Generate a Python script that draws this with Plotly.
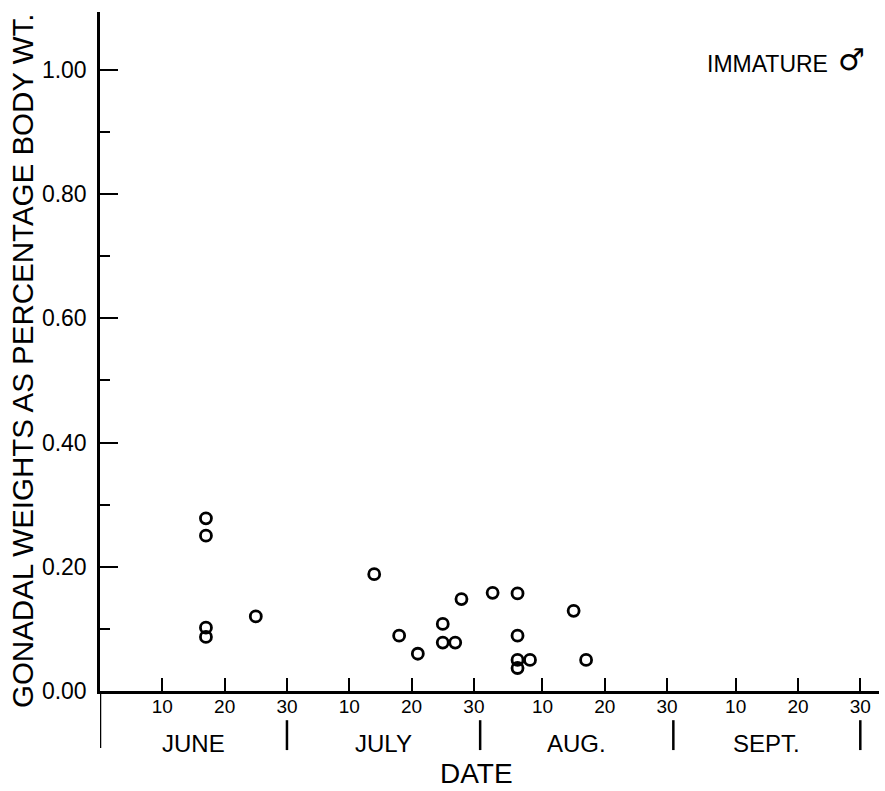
import plotly.graph_objects as go

# ---- data -------------------------------------------------------------
month_names = ["JUNE", "JULY", "AUG.", "SEPT."]
month_lengths = [30, 31, 31, 30]
tick_days = [10, 20, 30]

# observation month (0=June,1=July,2=Aug), day of month, gonadal weight %
obs_month = [0, 0, 0, 0, 0, 1, 1, 1, 1, 1, 1, 1, 2, 2, 2, 2, 2, 2, 2, 2]
obs_day = [17, 17, 17, 17, 25, 14, 18, 21, 25, 25, 27, 28, 2, 6, 6, 6, 6, 8, 15, 17]
gonad_pct = [0.278, 0.250, 0.102, 0.087, 0.120, 0.188, 0.089, 0.060, 0.108, 0.078,
             0.078, 0.148, 0.158, 0.157, 0.089, 0.050, 0.037, 0.050, 0.129, 0.050]

y_ticks = [0.0, 0.2, 0.4, 0.6, 0.8, 1.0]
y_ticklabels = ["0.00", "0.20", "0.40", "0.60", "0.80", "1.00"]
y_minor = [0.1, 0.3, 0.5, 0.7, 0.9]

# ---- derived positions (days from May 31) ------------------------------
offsets = []
acc = 0
for L in month_lengths:
    offsets.append(acc)
    acc += L
x_vals = [offsets[m] + d for m, d in zip(obs_month, obs_day)]
x_tickvals = [o + t for o in offsets for t in tick_days]
x_ticktext = [str(t) for o in offsets for t in tick_days]

FONT = "Liberation Sans, Arial, Helvetica, sans-serif"

fig = go.Figure()
fig.add_trace(go.Scatter(
    x=x_vals, y=gonad_pct, mode="markers",
    marker=dict(symbol="circle-open", size=11, color="black",
                line=dict(width=2.8, color="black")),
    cliponaxis=False, hoverinfo="x+y",
))

fig.update_layout(
    width=885, height=791,
    margin=dict(l=100, r=6, t=12, b=100),
    paper_bgcolor="white", plot_bgcolor="white",
    showlegend=False,
    xaxis=dict(
        range=[0, 125], showline=True, linecolor="black", linewidth=2.5,
        ticks="inside", ticklen=13, tickwidth=2, tickcolor="black",
        tickvals=x_tickvals, ticktext=x_ticktext,
        tickfont=dict(family=FONT, size=19, color="black"),
        ticklabelstandoff=-4,
        showgrid=False, zeroline=False,
    ),
    yaxis=dict(
        range=[0, 1.093], showline=True, linecolor="black", linewidth=2.5,
        ticks="inside", ticklen=18, tickwidth=2, tickcolor="black",
        tickvals=y_ticks, ticktext=y_ticklabels,
        tickfont=dict(family=FONT, size=23, color="black"),
        ticklabelstandoff=6,
        minor=dict(tickvals=y_minor, ticks="inside", ticklen=10,
                   tickwidth=2, tickcolor="black"),
        showgrid=False, zeroline=False,
    ),
)

# left axis extension below the x axis
fig.add_shape(type="line", xref="x", yref="paper", x0=0, x1=0,
              y0=0, y1=-0.084, line=dict(color="black", width=2.5))
# month separators and labels
for name, o, L in zip(month_names, offsets, month_lengths):
    fig.add_shape(type="line", xref="x", yref="paper", x0=o + L, x1=o + L,
                  y0=-0.043, y1=-0.087, line=dict(color="black", width=2.5))
    fig.add_annotation(x=o + L / 2, y=-0.0766, xref="x", yref="paper",
                       text=name, showarrow=False, xanchor="center", yanchor="middle",
                       font=dict(family=FONT, size=24, color="black"))

fig.add_annotation(x=(476 - 100) / 779, y=-0.1215, xref="paper", yref="paper",
                   text="DATE", showarrow=False, xanchor="center", yanchor="middle",
                   font=dict(family=FONT, size=28, color="black"))

fig.add_annotation(x=-0.1001, y=0.486, xref="paper", yref="paper",
                   text="GONADAL WEIGHTS AS PERCENTAGE BODY WT.", textangle=-90,
                   showarrow=False, xanchor="center", yanchor="middle",
                   font=dict(family=FONT, size=29.5, color="black"))

fig.add_annotation(x=(705 - 100) / 779, y=(691 - 64) / 679, xref="paper", yref="paper",
                   text="IMMATURE", showarrow=False,
                   xanchor="left", yanchor="middle",
                   font=dict(family=FONT, size=23, color="black"))
fig.add_annotation(x=(851 - 100) / 779, y=(691 - 60) / 679, xref="paper", yref="paper",
                   text="<b>♂</b>", showarrow=False,
                   xanchor="center", yanchor="middle",
                   font=dict(family="DejaVu Sans, sans-serif", size=30, color="black"))

fig.write_html("out.html")
